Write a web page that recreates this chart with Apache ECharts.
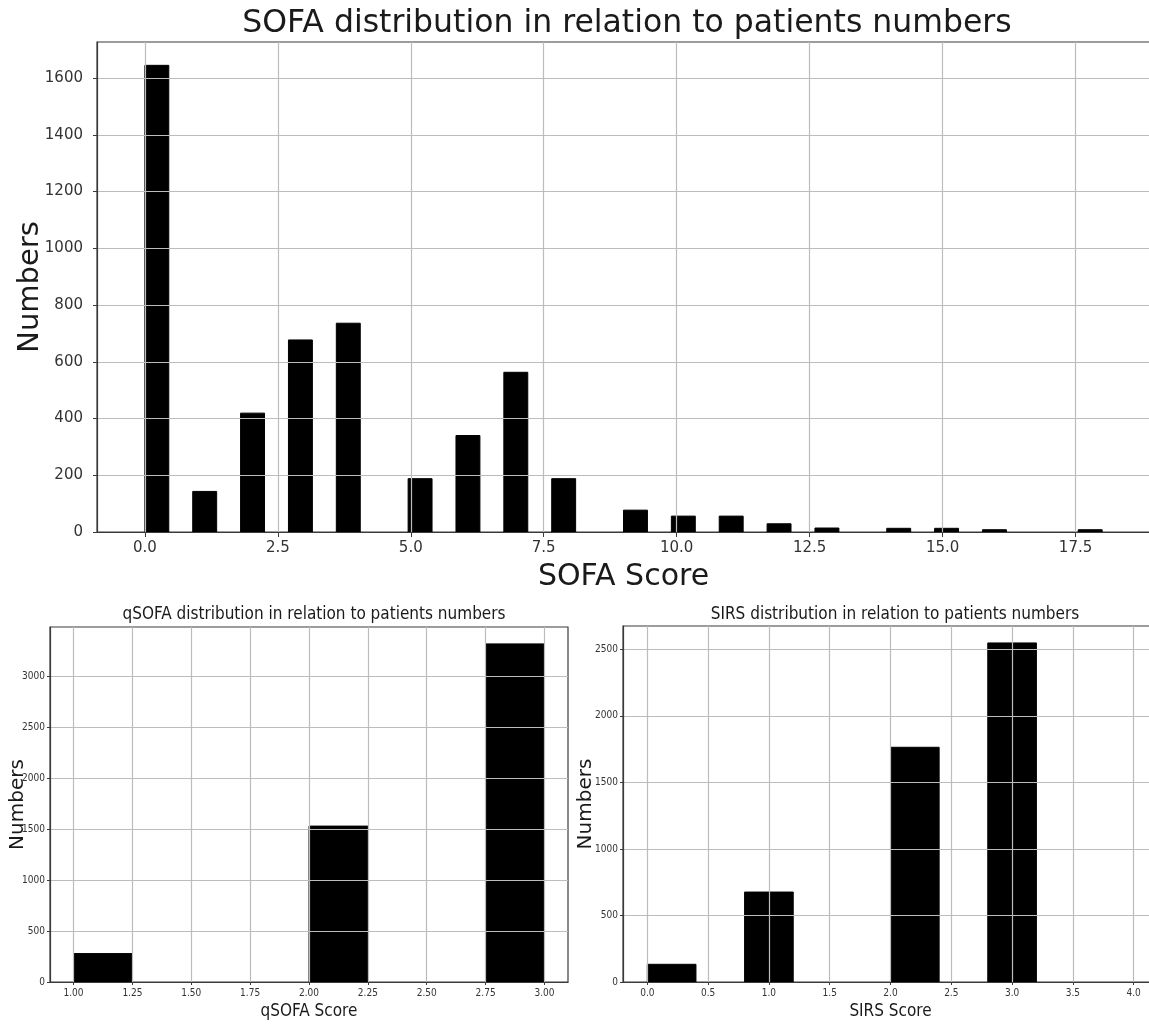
<!DOCTYPE html>
<html>
<head>
<meta charset="utf-8">
<script src="https://cdn.jsdelivr.net/npm/echarts@6/dist/echarts.min.js"></script>
<style>
  html, body { margin: 0; padding: 0; background: #ffffff; }
  #chart { width: 1149px; height: 1024px; }
</style>
</head>
<body>
<div id="chart"></div>
<script>
// ---- SOFA: patients per integer score ----
const sofaScores = [0, 1, 2, 3, 4, 5, 6, 7, 8, 9, 10, 11, 12, 13, 14, 15, 16, 17, 18];
const sofaCounts = [1645, 143, 419, 677, 736, 188, 340, 563, 188, 77, 56, 56, 29, 14, 13, 13, 8, 0, 8];
const sofaXTicks = [0, 2.5, 5, 7.5, 10, 12.5, 15, 17.5];
const sofaYTicks = [0, 200, 400, 600, 800, 1000, 1200, 1400, 1600];

// ---- qSOFA ----
const qsofaScores = [1, 2, 3];
const qsofaCounts = [279, 1530, 3318];
const qsofaXTicks = [1, 1.25, 1.5, 1.75, 2, 2.25, 2.5, 2.75, 3];
const qsofaYTicks = [0, 500, 1000, 1500, 2000, 2500, 3000];

// ---- SIRS ----
const sirsScores = [0, 1, 2, 3, 4];
const sirsCounts = [133, 676, 1764, 2548, 0];
const sirsXTicks = [0, 0.5, 1, 1.5, 2, 2.5, 3, 3.5, 4];
const sirsYTicks = [0, 500, 1000, 1500, 2000, 2500];

// histogram bin settings: [low, high, number of bins]
const sofaBins = [0, 18, 40];
const qsofaBins = [1, 3, 8];
const sirsBins = [0, 4, 10];

const MAIN_FONT = 'DejaVu Sans';
const SMALL_FONT = '"DejaVu Sans Condensed", "Liberation Sans Narrow", "DejaVu Sans"';
const GRID_COLOR = '#bcbcbc';
const SPINE_COLOR = '#3a3a3a';

// bars are drawn per histogram bin, the way a default-bin histogram lays them out
function histRenderer(bins) {
  const lo = bins[0], hi = bins[1], n = bins[2];
  const w = (hi - lo) / n;
  return function (params, api) {
    const v = api.value(0);
    const c = api.value(1);
    if (!c) return null;
    let k = Math.floor((v - lo) / w + 1e-9);
    if (k >= n) k = n - 1;
    const x0 = lo + k * w;
    const pTop = api.coord([x0, c]);
    const pBot = api.coord([x0 + w, 0]);
    return {
      type: 'rect',
      shape: { x: pTop[0], y: pTop[1], width: pBot[0] - pTop[0], height: pBot[1] - pTop[1] },
      style: { fill: '#000000', stroke: '#000000', lineWidth: 1 }
    };
  };
}

function pairs(xs, ys) { return xs.map((x, i) => [x, ys[i]]); }
function padRange(bins) { const m = (bins[1] - bins[0]) * 0.05; return [bins[0] - m, bins[1] + m]; }
function fmtFixed(d) { return v => v.toFixed(d); }
function fmtPlain(v) { return String(Math.round(v)); }

function xAxisDef(gridIndex, bins, ticks, fmt, o) {
  const r = padRange(bins);
  return {
    type: 'value', gridIndex, min: r[0], max: r[1], z: 5,
    name: o.name, nameLocation: 'middle', nameGap: o.nameGap,
    nameTextStyle: { fontFamily: o.nameFont, fontSize: o.nameSize, color: '#1a1a1a' },
    axisLine: { show: true, onZero: false, lineStyle: { color: SPINE_COLOR, width: 1.2 } },
    axisTick: { show: true, inside: false, length: o.tickLen, customValues: ticks, lineStyle: { color: SPINE_COLOR } },
    axisLabel: { customValues: ticks, formatter: fmt, margin: o.labelMargin, fontFamily: o.labelFont, fontSize: o.labelSize, color: '#333333', hideOverlap: false },
    splitLine: { show: true, lineStyle: { color: GRID_COLOR, width: 1.2 } }
  };
}

function yAxisDef(gridIndex, counts, ticks, o) {
  return {
    type: 'value', gridIndex, min: 0, max: Math.max.apply(null, counts) * 1.05, z: 5,
    name: 'Numbers', nameLocation: 'middle', nameRotate: 90, nameGap: o.nameGap, nameMoveOverlap: false,
    nameTextStyle: { fontFamily: MAIN_FONT, fontSize: o.nameSize, color: '#1a1a1a' },
    axisLine: { show: true, onZero: false, lineStyle: { color: SPINE_COLOR, width: 1.2 } },
    axisTick: { show: true, inside: false, length: o.tickLen, customValues: ticks, lineStyle: { color: SPINE_COLOR } },
    axisLabel: { customValues: ticks, formatter: fmtPlain, margin: o.labelMargin, fontFamily: o.labelFont, fontSize: o.labelSize, color: '#333333', hideOverlap: false },
    splitLine: { show: true, lineStyle: { color: GRID_COLOR, width: 1.2 } }
  };
}

function gridDef(left, right, top, bottom) {
  return { left, right, top, bottom, containLabel: false, outerBoundsMode: 'none',
    show: true, borderColor: SPINE_COLOR, borderWidth: 1.2, backgroundColor: 'transparent' };
}

const chart = echarts.init(document.getElementById('chart'), null, { renderer: 'canvas' });

const option = {
  backgroundColor: '#ffffff',
  animation: false,
  title: [
    { text: 'SOFA distribution in relation to patients numbers', left: 622, top: 3, textAlign: 'center',
      textStyle: { fontFamily: MAIN_FONT, fontSize: 31.5, fontWeight: 'normal', color: '#1a1a1a' } },
    { text: 'qSOFA distribution in relation to patients numbers', left: 309, top: 601, textAlign: 'center',
      textStyle: { fontFamily: SMALL_FONT, fontSize: 17, fontWeight: 'normal', color: '#1a1a1a' } },
    { text: 'SIRS distribution in relation to patients numbers', left: 890, top: 601, textAlign: 'center',
      textStyle: { fontFamily: SMALL_FONT, fontSize: 17, fontWeight: 'normal', color: '#1a1a1a' } }
  ],
  grid: [
    gridDef(97, -1, 42, 492),
    gridDef(50, 581, 627, 42),
    gridDef(623, -9, 626, 42)
  ],
  xAxis: [
    xAxisDef(0, sofaBins, sofaXTicks, fmtFixed(1), { name: 'SOFA Score', nameGap: 30, nameFont: MAIN_FONT, nameSize: 30, tickLen: 5, labelMargin: 9, labelFont: MAIN_FONT, labelSize: 15 }),
    xAxisDef(1, qsofaBins, qsofaXTicks, fmtFixed(2), { name: 'qSOFA Score', nameGap: 21, nameFont: SMALL_FONT, nameSize: 17, tickLen: 3, labelMargin: 6, labelFont: SMALL_FONT, labelSize: 10 }),
    xAxisDef(2, sirsBins, sirsXTicks, fmtFixed(1), { name: 'SIRS Score', nameGap: 21, nameFont: SMALL_FONT, nameSize: 17, tickLen: 3, labelMargin: 6, labelFont: SMALL_FONT, labelSize: 10 })
  ],
  yAxis: [
    yAxisDef(0, sofaCounts, sofaYTicks, { nameGap: 52, nameSize: 29, tickLen: 4, labelMargin: 14, labelFont: MAIN_FONT, labelSize: 15 }),
    yAxisDef(1, qsofaCounts, qsofaYTicks, { nameGap: 22, nameSize: 20, tickLen: 3, labelMargin: 5, labelFont: SMALL_FONT, labelSize: 10 }),
    yAxisDef(2, sirsCounts, sirsYTicks, { nameGap: 27, nameSize: 20, tickLen: 3, labelMargin: 5, labelFont: SMALL_FONT, labelSize: 10 })
  ],
  series: [
    { type: 'custom', xAxisIndex: 0, yAxisIndex: 0, renderItem: histRenderer(sofaBins), data: pairs(sofaScores, sofaCounts), clip: true },
    { type: 'custom', xAxisIndex: 1, yAxisIndex: 1, renderItem: histRenderer(qsofaBins), data: pairs(qsofaScores, qsofaCounts), clip: true },
    { type: 'custom', xAxisIndex: 2, yAxisIndex: 2, renderItem: histRenderer(sirsBins), data: pairs(sirsScores, sirsCounts), clip: true }
  ]
};

chart.setOption(option);
</script>
</body>
</html>
